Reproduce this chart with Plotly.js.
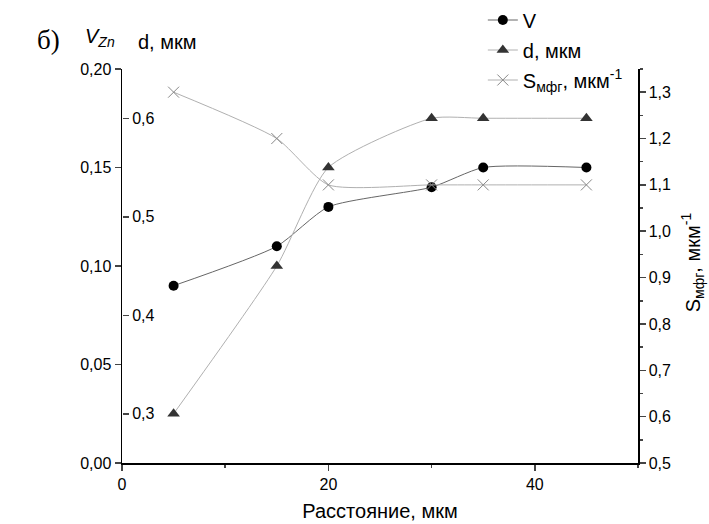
<!DOCTYPE html>
<html>
<head>
<meta charset="utf-8">
<script src="https://cdn.plot.ly/plotly-3.0.1.min.js"></script>
<style>html,body{margin:0;padding:0;background:#fff;}#chart{width:709px;height:524px;}</style>
</head>
<body>
<div id="chart"></div>
<script>
// Data
const distance = [5, 15, 20, 30, 35, 45];
const vZn = [0.09, 0.11, 0.13, 0.14, 0.15, 0.15];
const dMkm = [0.30, 0.45, 0.55, 0.60, 0.60, 0.60];
const sMfg = [1.30, 1.20, 1.10, 1.10, 1.10, 1.10];
const seriesNames = ['V', 'd, мкм', 'S<sub>мфг</sub>, мкм<sup>-1</sup>'];
const rightAxisTitle = 'S<sub>мфг</sub>, мкм<sup>-1</sup>';

const F = 'Liberation Sans, Arial, sans-serif';

const traces = [
  {x: distance, y: vZn, name: seriesNames[0], mode: 'lines+markers', yaxis: 'y', legend: 'legend',
   line: {shape: 'spline', smoothing: 0.6, color: '#666', width: 1},
   marker: {symbol: 'circle', size: 10, color: '#000'}},
  {x: distance, y: dMkm, name: seriesNames[1], mode: 'lines+markers', yaxis: 'y2', legend: 'legend2',
   line: {shape: 'spline', smoothing: 0.6, color: '#b0b0b0', width: 1},
   marker: {symbol: 'triangle-up', size: 11, color: '#333'}},
  {x: distance, y: sMfg, name: seriesNames[2], mode: 'lines+markers', yaxis: 'y3', legend: 'legend3',
   line: {shape: 'spline', smoothing: 0.6, color: '#b0b0b0', width: 1},
   marker: {symbol: 'x-thin', size: 11, color: '#888', line: {width: 1, color: '#888'}}}
];

const legendBase = {xref: 'container', yref: 'container', xanchor: 'left', yanchor: 'middle',
  bgcolor: 'rgba(0,0,0,0)', font: {family: F, size: 20, color: '#000'}, borderwidth: 0};

const layout = {
  width: 709, height: 524,
  margin: {l: 122, r: 71, t: 69, b: 61, autoexpand: false},
  paper_bgcolor: '#fff', plot_bgcolor: '#fff',
  separators: ', ',
  font: {family: F, size: 16, color: '#000'},
  showlegend: true,
  xaxis: {
    range: [0, 50], dtick: 20, tick0: 0, ticks: 'outside', ticklen: 6, tickwidth: 1.5,
    showline: true, linewidth: 1.5, linecolor: '#000', showgrid: false, zeroline: false,
    minor: {dtick: 10, tick0: 0, ticks: 'outside', ticklen: 3, tickwidth: 1.5, showgrid: false},
    tickfont: {family: F, size: 16},
    title: {text: 'Расстояние, мкм', font: {family: F, size: 20}, standoff: 12}
  },
  yaxis: {
    range: [0, 0.2], dtick: 0.05, tick0: 0, tickformat: '.2f', ticks: 'outside', ticklen: 6, tickwidth: 1.5,
    showline: true, linewidth: 1.5, linecolor: '#000', showgrid: false, zeroline: false,
    tickfont: {family: F, size: 16}
  },
  yaxis2: {
    overlaying: 'y', anchor: 'free', position: 0, side: 'right',
    range: [0.25, 0.65], dtick: 0.1, tick0: 0.3, tickformat: '.1f', ticks: 'outside', ticklen: 6, tickwidth: 1.5,
    showline: false, showgrid: false, zeroline: false, tickfont: {family: F, size: 16}
  },
  yaxis3: {
    overlaying: 'y', anchor: 'x', side: 'right',
    range: [0.5, 1.35], dtick: 0.1, tick0: 0.5, tickformat: '.1f', ticks: 'outside', ticklen: 6, tickwidth: 1.5,
    showline: true, linewidth: 1.5, linecolor: '#000', showgrid: false, zeroline: false,
    minor: {dtick: 0.05, tick0: 0.5, ticks: 'outside', ticklen: 3, tickwidth: 1.5, showgrid: false},
    tickfont: {family: F, size: 16}
  },
  legend: Object.assign({}, legendBase, {x: 0.681, y: 1 - 20 / 524}),
  legend2: Object.assign({}, legendBase, {x: 0.681, y: 1 - 50 / 524}),
  legend3: Object.assign({}, legendBase, {x: 0.681, y: 1 - 80 / 524}),
  annotations: [
    {text: 'б)', xref: 'paper', yref: 'paper', x: -0.143, y: 1.074, showarrow: false,
     xanchor: 'center', yanchor: 'middle', font: {family: 'Liberation Serif, Times New Roman, serif', size: 27}},
    {text: '<i>V<sub>Zn</sub></i>', xref: 'paper', yref: 'paper', x: -0.043, y: 1.081, showarrow: false,
     xanchor: 'center', yanchor: 'middle', font: {family: F, size: 20}},
    {text: 'd, мкм', xref: 'paper', yref: 'paper', x: 0.089, y: 1.068, showarrow: false,
     xanchor: 'center', yanchor: 'middle', font: {family: F, size: 20}},
    {text: rightAxisTitle, xref: 'paper', yref: 'paper', x: 1.105, y: 0.51, showarrow: false,
     textangle: -90, xanchor: 'center', yanchor: 'middle', font: {family: F, size: 20}}
  ]
};

Plotly.newPlot('chart', traces, layout, {displayModeBar: false, staticPlot: true});
</script>
</body>
</html>
